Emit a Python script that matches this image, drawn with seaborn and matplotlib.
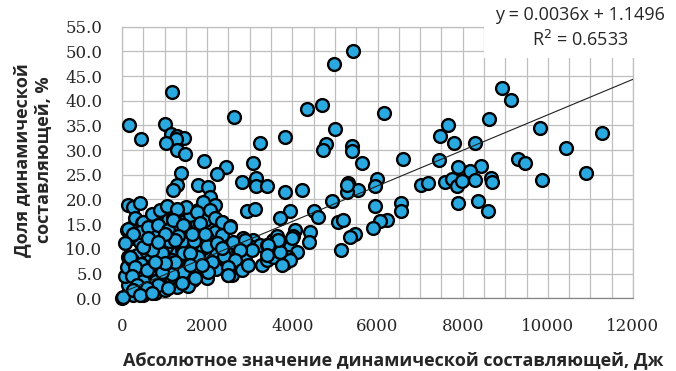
"""Scatter of dynamic component share vs its absolute value, with linear trend."""

# %% IMPORTS
import matplotlib
matplotlib.use("Agg")
from matplotlib.patches import Rectangle
import matplotlib.pyplot as plt
import numpy as np
import pandas as pd
import seaborn as sns

# %% DATA
# sparse points, mostly above 20 % or right of 4000 J
spread_x = [5430, 4983, 1181, 8926, 9130, 4702, 4342, 6150, 2621, 8621, 160, 1009,
            7644, 4995, 9827, 11282, 1150, 7471, 3833, 1284, 1455, 453, 1267, 1025,
            3231, 7808, 8292, 4788, 4725, 5400, 5406, 10421, 1298, 1486, 6600, 7433,
            9301, 9466, 1932, 3075, 5640, 7902, 8421, 2450, 8183, 10906, 2236, 1385,
            2809, 3138, 3138, 3396, 9874, 7017, 7189, 7581, 7738, 7870, 7973, 8285,
            8677, 8684, 5312, 5978, 5938, 5546, 5273, 5273, 4217, 3826, 7894, 8371,
            8606, 6541, 6556, 6227, 6055, 4922, 5938, 4514, 4608, 3943, 5077, 5194,
            5898, 5469, 5351, 5152, 4060, 4412, 4389, 3826, 3943, 4100, 3904, 3826,
            3943]
spread_y = [50.1, 47.4, 41.7, 42.5, 40.2, 39.1, 38.4, 37.6, 36.8, 36.3, 35.0, 35.2,
            35.0, 34.3, 34.5, 33.5, 33.3, 32.9, 32.7, 32.8, 32.5, 32.2, 32.2, 31.5,
            31.4, 31.4, 31.4, 31.3, 30.1, 30.9, 29.9, 30.4, 30.1, 29.3, 28.3, 28.0,
            28.2, 27.3, 27.8, 27.3, 27.3, 26.6, 26.8, 26.5, 25.8, 25.4, 25.1, 25.4,
            23.6, 24.3, 22.7, 22.7, 23.9, 22.9, 23.4, 23.6, 24.1, 22.7, 23.7, 23.9,
            24.3, 23.6, 23.3, 24.1, 22.7, 22.0, 21.6, 22.9, 22.0, 21.6, 19.3, 19.7,
            17.7, 19.3, 17.7, 15.8, 15.6, 19.7, 18.7, 17.7, 16.5, 17.7, 15.4, 15.8,
            14.3, 13.1, 12.4, 9.8, 13.8, 13.5, 11.4, 11.1, 10.4, 9.4, 8.4, 7.1,
            7.7]

# middle band, 1200-4000 J
middle_x = [2926, 3121, 3708, 1283, 1190, 1791, 2026, 2065, 1987, 1791, 1753, 1830,
            2065, 2340, 2535, 2222, 2065, 2183, 2183, 2300, 2496, 2652, 2457, 2535,
            2574, 2496, 2770, 2887, 3082, 3043, 3239, 2770, 2887, 2574, 3279, 3396,
            3551, 3747, 3708, 3551, 3396, 3630, 4021, 3982, 3669, 3434, 3395, 2848,
            2730]
middle_y = [17.7, 18.0, 16.2, 22.9, 21.9, 22.9, 22.6, 20.5, 17.9, 17.9, 15.2, 15.2,
            14.5, 15.5, 14.6, 11.8, 12.1, 13.5, 18.9, 10.3, 9.1, 9.8, 7.4, 6.4,
            4.7, 4.7, 9.8, 11.4, 11.8, 10.3, 10.8, 8.1, 7.7, 6.7, 6.7, 7.7,
            8.4, 6.7, 9.4, 11.8, 10.8, 12.5, 12.5, 12.1, 11.8, 10.8, 8.7, 12.1,
            9.8]

# dense cluster near the origin
cluster_x = [148, 265, 422, 110, 227, 305, 462, 657, 852, 1087, 1244, 1439,
             1361, 1087, 1283, 892, 1205, 500, 227, 422, 617, 852, 1048, 1244,
             1400, 422, 227, 148, 344, 579, 774, 931, 1126, 1283, 1400, 1440,
             1596, 1830, 1909, 2105, 2026, 2144, 1713, 1753, 1518, 1557, 1753, 1830,
             1987, 1713, 305, 579, 814, 1048, 1166, 1400, 1478, 1283, 305, 579,
             852, 1048, 148, 422, 657, 1244, 1283, 70, 110, 227, 657, 930,
             1166, 1439, 1361, 265, 500, 774, 1009, 1283, 1478, 1674, 1987, 0,
             20, 350, 700, 950, 1150, 1600, 1650, 1900, 2200, 2400, 2350, 1950,
             1600, 1500, 1900, 700, 900, 1050, 1300, 600, 800, 1000, 450, 800,
             500, 1100, 1400, 1700, 2000, 2400, 2200, 1800, 1550, 2000]
cluster_y = [18.9, 18.5, 19.2, 13.8, 14.5, 16.2, 15.2, 14.5, 15.2, 15.8, 16.5, 15.5,
             14.8, 13.8, 13.8, 13.8, 16.2, 15.5, 12.1, 11.4, 12.1, 11.4, 11.1, 12.1,
             12.8, 13.5, 12.8, 8.4, 8.7, 9.4, 9.4, 9.8, 9.1, 9.1, 9.8, 10.4,
             9.4, 8.7, 7.4, 7.1, 8.4, 7.7, 6.4, 4.4, 5.7, 12.5, 12.8, 11.8,
             12.1, 12.8, 6.1, 5.7, 7.1, 6.4, 7.7, 7.1, 5.4, 5.7, 2.7, 2.0,
             2.5, 3.7, 2.7, 1.0, 1.3, 3.3, 4.7, 4.4, 6.4, 7.7, 7.7, 9.1,
             7.1, 5.7, 5.2, 0.6, 0.6, 1.0, 1.7, 2.3, 3.0, 3.7, 4.0, 0.0,
             0.2, 4.0, 4.5, 5.0, 4.2, 7.5, 10.8, 10.2, 9.6, 11.0, 12.8, 15.8,
             16.8, 18.5, 19.5, 17.0, 17.8, 18.6, 18.0, 10.6, 12.8, 13.0, 7.0, 3.5,
             3.5, 11.5, 11.5, 11.5, 10.5, 8.5, 6.0, 6.0, 2.5, 5.5]

# extra points packed into the core of the cluster
core_x = [148, 266, 70, 188, 305, 227, 344, 266, 618, 853, 1087, 1205,
          1439, 1322, 1244, 1009, 1752, 1830, 2065, 2183, 2339, 2535, 1635, 1948,
          2222, 2339, 2613, 2887, 3043, 2770, 2652, 2496, 2496, 2809, 2965, 2104,
          2026, 1713, 1439, 1166, 931, 853, 579, 579, 931, 696, 500, 618,
          853, 1439, 1244, 1009, 774, 1791, 1596, 1596, 1870, 422, 696, 1087,
          1400]
core_y = [14.1, 13.1, 11.1, 8.4, 6.4, 4.4, 2.7, 1.7, 14.5, 14.8, 13.8, 15.8,
          14.8, 12.5, 11.8, 13.1, 17.5, 15.2, 17.9, 16.2, 15.5, 14.5, 13.1, 13.1,
          11.1, 10.1, 11.4, 11.8, 9.8, 9.8, 7.7, 6.4, 4.7, 5.7, 6.7, 7.4,
          5.4, 4.0, 5.4, 5.0, 5.4, 2.7, 2.0, 5.7, 9.1, 9.8, 10.4, 12.1,
          11.4, 9.1, 7.4, 7.1, 7.4, 8.4, 9.1, 6.7, 6.7, 0.6, 1.0, 2.0,
          3.0]

# trend line from the reference label
trend_slope = 0.0036
trend_intercept = 1.1496
r_squared = 0.6533

x_ticks = [0, 2000, 4000, 6000, 8000, 10000, 12000]
x_tick_labels = ["0", "2000", "4000", "6000", "8000", "10000", "12000"]
y_ticks = [0, 5, 10, 15, 20, 25, 30, 35, 40, 45, 50, 55]
y_tick_labels = ["0.0", "5.0", "10.0", "15.0", "20.0", "25.0", "30.0", "35.0",
                 "40.0", "45.0", "50.0", "55.0"]

df = pd.DataFrame({
    "energy": spread_x + middle_x + cluster_x + core_x,
    "share": spread_y + middle_y + cluster_y + core_y,
})

# %% VISUALISE
W, H = 676, 371
sns.set_style("white")
fig = plt.figure(figsize=(W / 100, H / 100), dpi=100)
ax = fig.add_axes([122 / W, 1 - 298.2 / H, 511 / W, 271.5 / H])

grid_c = "#BFBFBF"
ax.set_axisbelow(True)

sns.scatterplot(
    data=df, x="energy", y="share", ax=ax,
    color="#29A9E0", edgecolor="black", linewidth=1.7, s=85,
    clip_on=False, zorder=3, legend=False,
)

trend_x = np.array([0, 12000])
ax.plot(trend_x, trend_slope * trend_x + trend_intercept, color="#202020", lw=0.8, zorder=4)

ax.set_xlim(0, 12000)
ax.set_ylim(0, 55)
ax.set_xticks(x_ticks)
ax.set_xticklabels(x_tick_labels, fontfamily="DejaVu Serif", fontsize=12)
ax.set_xticks(np.arange(0, 12001, 500), minor=True)
ax.set_yticks(y_ticks)
ax.set_yticklabels(y_tick_labels, fontfamily="DejaVu Serif", fontsize=12)

ax.grid(True, which="both", axis="x", color=grid_c, lw=0.9)
ax.grid(True, which="major", axis="y", color=grid_c, lw=0.9)
ax.tick_params(axis="x", which="major", length=4, color="#868686", width=0.9, pad=10)
ax.tick_params(axis="x", which="minor", length=0)
ax.tick_params(axis="y", length=5, color=grid_c, width=0.9, pad=9)
ax.set_xlabel("")
ax.set_ylabel("")

for side in ["left", "top", "right"]:
    ax.spines[side].set_color(grid_c)
    ax.spines[side].set_linewidth(0.9)
ax.spines["bottom"].set_color("#868686")
ax.spines["bottom"].set_linewidth(0.9)

# Axis titles
fig.text(393 / W, 1 - 360 / H, "Абсолютное значение динамической составляющей, Дж",
         ha="center", va="center", fontsize=13, fontweight="bold", family="Open Sans")
fig.text(33 / W, 1 - 160 / H, "Доля динамической\nсоставляющей, %",
         ha="center", va="center", rotation=90, fontsize=13, fontweight="bold",
         family="Open Sans", linespacing=1.3)

# Trendline label on a white patch over the top-right corner
fig.patches.append(Rectangle((484 / W, 1 - 58 / H), 192 / W, 58 / H,
                             transform=fig.transFigure, facecolor="white",
                             edgecolor="none", zorder=5))
fig.text(580 / W, 1 - 28 / H,
         f"y = {trend_slope:.4f}x + {trend_intercept:.4f}\nR$^2$ = {r_squared:.4f}",
         ha="center", va="center", fontsize=13, family="Open Sans",
         linespacing=1.35, zorder=6)

fig.savefig("out.png", dpi=100)
